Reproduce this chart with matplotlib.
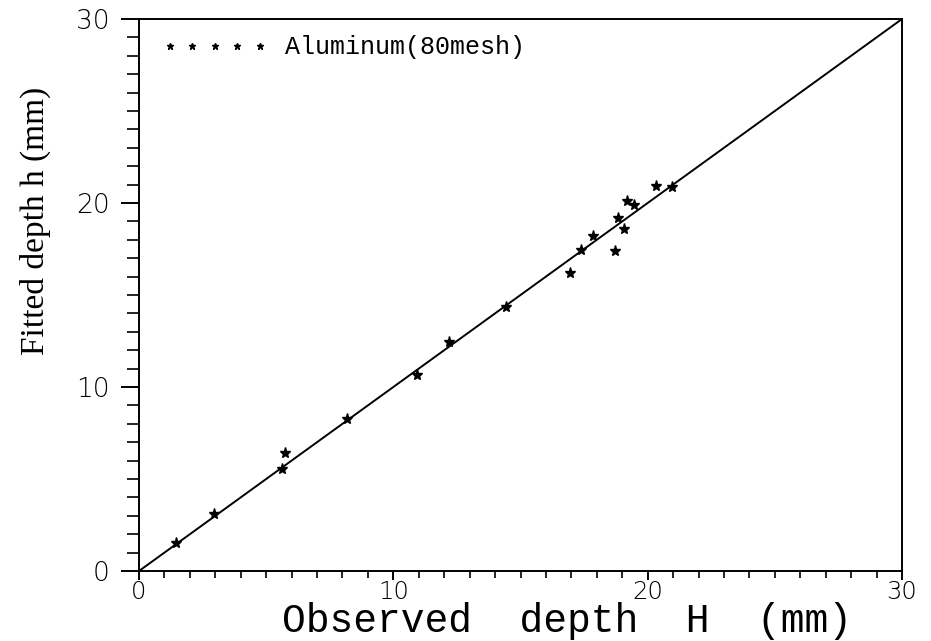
import numpy as np
import matplotlib
matplotlib.use("Agg")
import matplotlib.pyplot as plt
from matplotlib.ticker import MultipleLocator

# observed depth H (mm) vs fitted depth h (mm)
observed = [1.45, 2.95, 5.61, 5.75, 8.19, 10.94, 12.18, 14.42, 16.95, 17.37,
            17.86, 18.73, 18.82, 19.05, 19.20, 19.46, 20.34, 20.97]
fitted = [1.52, 3.12, 5.55, 6.44, 8.24, 10.67, 12.43, 14.33, 16.18, 17.46,
          18.22, 17.40, 19.18, 18.60, 20.10, 19.89, 20.94, 20.89]

# 45 degree reference line
line_x = [0, 30]
line_y = [0, 30]

series_label = "Aluminum(80mesh)"
xlabel = "Observed  depth  H  (mm)"
ylabel = "Fitted depth h (mm)"

fig = plt.figure(figsize=(9.31, 6.41), dpi=100)
ax = fig.add_axes([139 / 931, 1 - 571 / 641, 763 / 931, 552 / 641])

ax.plot(line_x, line_y, color='black', lw=1.4)
ax.plot(observed, fitted, ls='none', marker='*', ms=8, color='black',
        label=series_label)

ax.set_xlim(0, 30)
ax.set_ylim(0, 30)

ax.xaxis.set_major_locator(MultipleLocator(10))
ax.xaxis.set_minor_locator(MultipleLocator(1))
ax.yaxis.set_major_locator(MultipleLocator(10))
ax.yaxis.set_minor_locator(MultipleLocator(1))

ax.tick_params(axis='x', which='major', direction='out', length=6.5, width=1.4, pad=0)
ax.tick_params(axis='x', which='minor', direction='out', length=5, width=1.2)
ax.tick_params(axis='y', which='major', direction='out', length=13, width=1.4, pad=8)
ax.tick_params(axis='y', which='minor', direction='out', length=8.6, width=1.2)
for lab in ax.get_xticklabels():
    lab.set_fontfamily('DejaVu Sans')
    lab.set_fontweight('light')
    lab.set_fontsize(17.5)
for lab in ax.get_yticklabels():
    lab.set_fontfamily('DejaVu Sans')
    lab.set_fontweight('light')
    lab.set_fontsize(19)

for sp in ax.spines.values():
    sp.set_linewidth(1.4)

ax.set_xlabel(xlabel, family='Liberation Mono', size=28.5, va='baseline')
ax.xaxis.set_label_coords((567 - 139) / 763, (571 - 632) / 552)
ax.set_ylabel(ylabel, family='Liberation Serif', size=24, va='center')
ax.yaxis.set_label_coords((35 - 139) / 763, (571 - 221) / 552)

leg = ax.legend(loc='upper left', bbox_to_anchor=(0.009, 1.0), frameon=False,
                numpoints=5, markerscale=0.6, handlelength=4.2,
                handletextpad=0.7, borderaxespad=0.25,
                prop={'family': 'Liberation Mono', 'size': 18})

fig.savefig("out.png", dpi=100)
